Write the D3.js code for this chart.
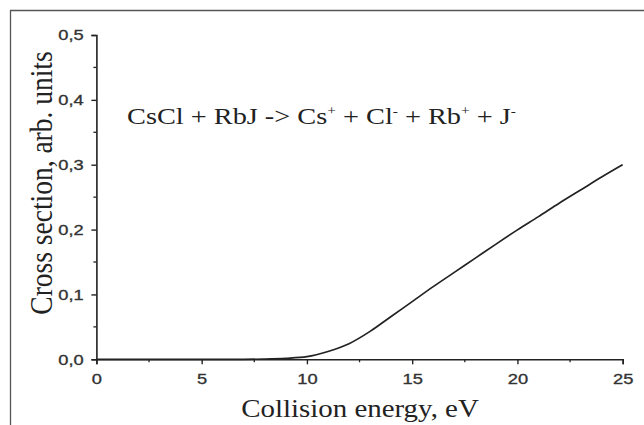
<!DOCTYPE html>
<html><head><meta charset="utf-8">
<script src="https://cdn.jsdelivr.net/npm/d3@7"></script>
<style>html,body{margin:0;padding:0;background:#fff;}svg{display:block;}</style>
</head><body>
<script>
const energy = [0,1,2,3,4,5,6,7,8,9,10,11,12,13,14,15,16,17,18,19,20,21,22,23,24,25];
const crossSection = [0,0,0,0,0,0,0,0,0.0004,0.0015,0.004,0.012,0.024,0.043,0.066,0.089,0.112,0.134,0.156,0.178,0.1995,0.220,0.241,0.261,0.281,0.300];
const xTicks = [0,5,10,15,20,25];
const xMinor = [2.5,7.5,12.5,17.5,22.5];
const yTicks = [0,0.1,0.2,0.3,0.4,0.5];
const yMinor = [0.05,0.15,0.25,0.35,0.45];
const xTitle = "Collision energy, eV";
const yTitle = "Cross section, arb. units";

const W=644,H=425, SX=1.18;
const serif="'Liberation Serif','Times New Roman',serif";
const sans="'Liberation Sans',Arial,sans-serif";
const svg=d3.select("body").append("svg").attr("width",W).attr("height",H);
svg.append("line").attr("x1",10).attr("x2",W).attr("y1",10.5).attr("y2",10.5).attr("stroke","#555").attr("stroke-width",1.3);
svg.append("line").attr("x1",10.5).attr("x2",10.5).attr("y1",10).attr("y2",H).attr("stroke","#555").attr("stroke-width",1.3);

const x=d3.scaleLinear().domain([0,25]).range([96.4,622.7]);
const y=d3.scaleLinear().domain([0,0.5]).range([359.3,35]);
const fmt=d=>d3.format(".1f")(d).replace(".",",");

const gx=svg.append("g").attr("transform",`translate(0,${y(0)})`)
  .call(d3.axisBottom(x).tickValues(xTicks).tickSize(5).tickPadding(8.5).tickFormat(d3.format("d")));
gx.append("g").selectAll("line").data(xMinor).join("line")
  .attr("x1",d=>x(d)).attr("x2",d=>x(d)).attr("y1",0).attr("y2",3).attr("stroke","#222").attr("stroke-width",1.3);
const gy=svg.append("g").attr("transform",`translate(${x(0)},0)`)
  .call(d3.axisLeft(y).tickValues(yTicks).tickSize(5).tickFormat(fmt));
gy.append("g").selectAll("line").data(yMinor).join("line")
  .attr("y1",d=>y(d)).attr("y2",d=>y(d)).attr("x1",0).attr("x2",-3).attr("stroke","#222").attr("stroke-width",1.3);
[gx,gy].forEach(g=>{
  g.attr("font-size",null).attr("font-family",null);
  g.select(".domain").attr("stroke","#222").attr("stroke-width",1.6);
  g.selectAll(".tick line").attr("stroke","#222").attr("stroke-width",1.4);
  g.selectAll(".tick text").style("font-family",sans).style("font-size","15.5px")
    .attr("fill","#333").attr("stroke","#333").attr("stroke-width",0.35);
});
gx.selectAll(".tick text").attr("transform",`scale(${SX},1)`);
gy.selectAll(".tick text").attr("x",-12.7/SX).attr("transform",`scale(${SX},1)`);

const line=d3.line().x((d,i)=>x(energy[i])).y(d=>y(d)).curve(d3.curveMonotoneX);
svg.append("path").datum(crossSection).attr("d",line).attr("fill","none").attr("stroke","#222").attr("stroke-width",1.7);

svg.append("text").attr("transform",`translate(360,417) scale(${SX},1)`).attr("text-anchor","middle")
  .attr("font-family",serif).attr("font-size",24.5).attr("fill","#222").text(xTitle);
svg.append("text").attr("transform",`translate(51.5,183) rotate(-90) scale(1,${SX})`).attr("text-anchor","middle")
  .attr("font-family",serif).attr("font-size",27.5).attr("fill","#222").text(yTitle);

const ann=svg.append("text").attr("transform",`translate(127,123.5) scale(${SX},1)`)
  .attr("font-family",serif).attr("font-size",24).attr("fill","#222");
const parts=[["CsCl + RbJ -> Cs",0],["+",1],[" + Cl",0],["-",1],[" + Rb",0],["+",1],[" + J",0],["-",1]];
parts.forEach(([t,s],i)=>{
  const ts=ann.append("tspan").text(t);
  if(s){ts.attr("font-size",13).attr("dy",-9);} else if(i>0){ts.attr("dy",9);}
});
</script>
</body></html>
